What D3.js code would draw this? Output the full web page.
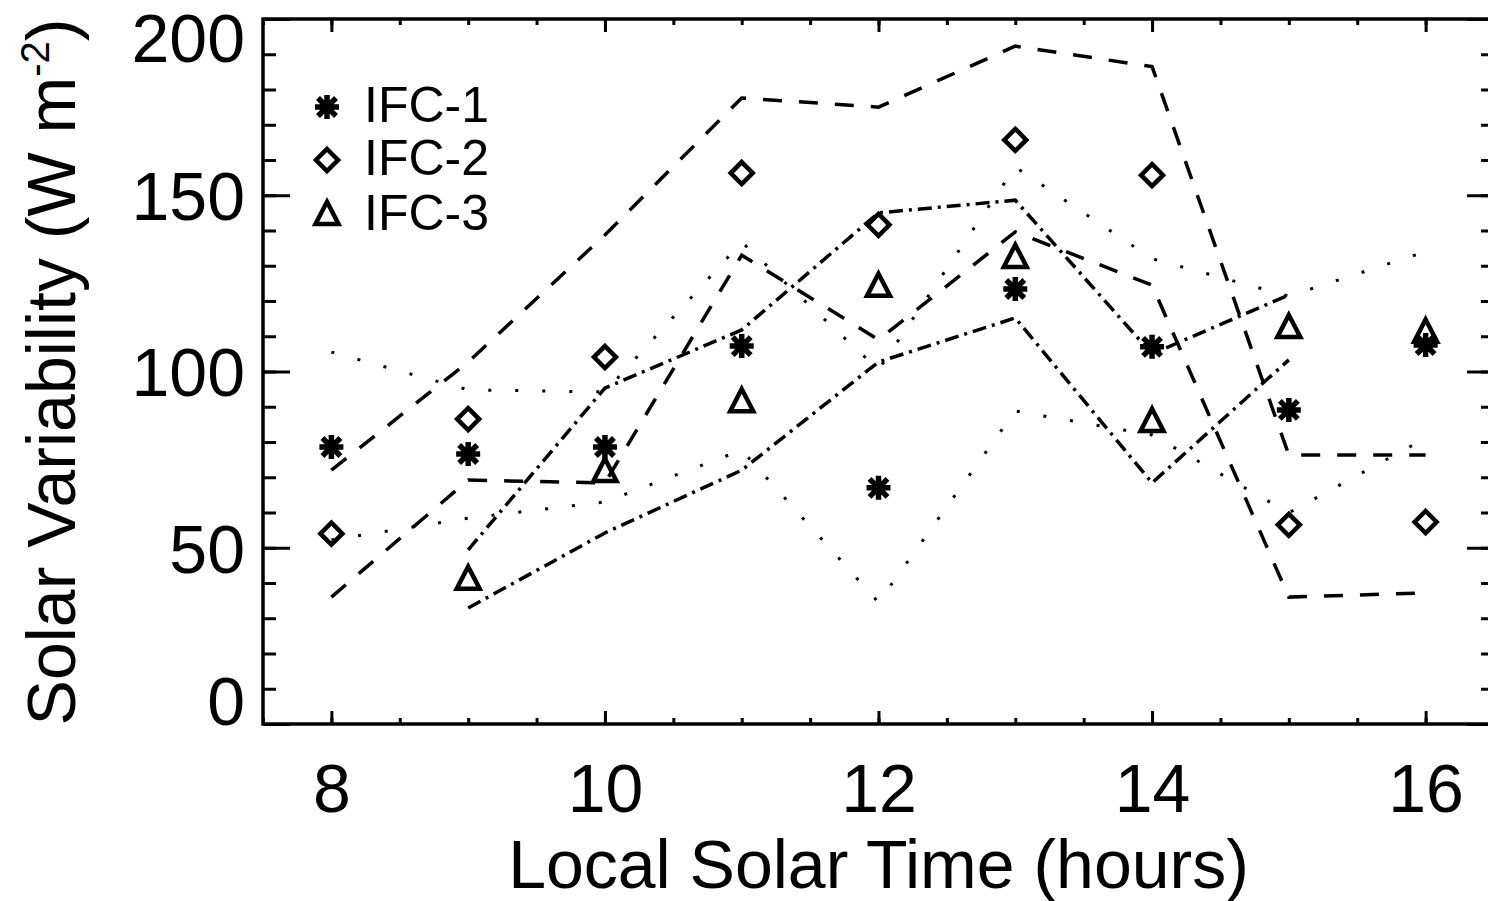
<!DOCTYPE html>
<html>
<head>
<meta charset="utf-8">
<script src="https://cdn.jsdelivr.net/npm/d3@7"></script>
<style>
  body { margin: 0; background: #fff; }
  svg { display: block; }
  text { font-family: "Liberation Sans", Arial, Helvetica, sans-serif; fill: #000; }
</style>
</head>
<body>
<svg id="chart" width="1488" height="901"></svg>
<script>
// hours of local solar time
var hours = [8, 9, 10, 11, 12, 13, 14, 15, 16];

// IFC-1 (asterisks) mean and envelope
var ifc1Mean  = [78.6, 76.6, 78.6, 107.2, 67.0, 123.4, 107.0, 89.1, 107.5];
var ifc1Upper = [105.5, 94.8, 94.2, 136.7, 100.5, 158.0, 132.0, 121.4, 134.0];
var ifc1Lower = [52.2, 58.4, 63.0, 77.7, 34.5, 88.8, 82.0, 59.9, 81.1];

// IFC-2 (diamonds)
var ifc2Mean  = [54.0, 86.5, 104.1, 156.3, 141.6, 165.7, 155.7, 56.5, 57.3];
var ifc2Upper = [72.0, 102.7, 138.7, 177.6, 175.0, 192.3, 186.5, 76.3, 76.3];
var ifc2Lower = [36.0, 69.2, 68.4, 133.0, 109.0, 139.6, 124.5, 36.0, 37.2];

// IFC-3 (triangles), no value at 8 h, no spread at 16 h
var ifc3Mean  = [null, 40.9, 71.5, 91.3, 124.0, 132.2, 85.7, 112.3, 111.0];
var ifc3Upper = [null, 49.4, 95.3, 111.8, 145.0, 148.6, 105.0, 121.7, null];
var ifc3Lower = [null, 32.9, 54.2, 72.0, 102.7, 115.2, 68.4, 103.3, null];

var yMajor = [0, 50, 100, 150, 200];
var xMajor = [8, 10, 12, 14, 16];
var legendNames = ["IFC-1", "IFC-2", "IFC-3"];

var svg = d3.select("#chart");

var x = d3.scaleLinear().domain([7.5, 16.5]).range([263, 1494]);
var y = d3.scaleLinear().domain([0, 200]).range([724, 19]);

// ---- marker shapes ----
function asterisk(s) {
  var d = s * 0.75;
  return "M" + (-s) + ",0L" + s + ",0M0," + (-s) + "L0," + s +
         "M" + (-d) + "," + (-d) + "L" + d + "," + d +
         "M" + (-d) + "," + d + "L" + d + "," + (-d);
}
function diamond(s) {
  return "M0," + (-s) + "L" + s + ",0L0," + s + "L" + (-s) + ",0Z";
}
function triangle(s) {
  return "M0," + (-s * 1.15) + "L" + s + "," + (s * 0.78) + "L" + (-s) + "," + (s * 0.78) + "Z";
}

var series = [
  { mean: ifc1Mean, upper: ifc1Upper, lower: ifc1Lower, shape: asterisk(12), sw: 5.5, dash: "3,24", lw: 3 },
  { mean: ifc2Mean, upper: ifc2Upper, lower: ifc2Lower, shape: diamond(11), sw: 4.5, dash: "19,17", lw: 3.5 },
  { mean: ifc3Mean, upper: ifc3Upper, lower: ifc3Lower, shape: triangle(11.5), sw: 4.5, dash: "14,6,3,6", lw: 3.5 }
];

// ---- axes ticks ----
function styleAxis(g) {
  g.select(".domain").remove();
  g.selectAll(".tick line").attr("stroke", "#000").attr("stroke-width", 3);
}

svg.append("g").attr("transform", "translate(0,724)")
  .call(d3.axisBottom(x).tickValues(d3.range(7.5, 16.6, 0.5)).tickSize(-6).tickFormat(""))
  .call(styleAxis);
var xAx = svg.append("g").attr("transform", "translate(0,724)")
  .call(d3.axisBottom(x).tickValues(xMajor).tickSize(-13).tickPadding(40).tickFormat(d3.format("d")))
  .call(styleAxis);
xAx.selectAll("text").attr("font-size", 68).attr("font-family", "Liberation Sans, Arial, sans-serif");

svg.append("g").attr("transform", "translate(0,19)")
  .call(d3.axisTop(x).tickValues(d3.range(7.5, 16.6, 0.5)).tickSize(-6).tickFormat(""))
  .call(styleAxis);
svg.append("g").attr("transform", "translate(0,19)")
  .call(d3.axisTop(x).tickValues(xMajor).tickSize(-13).tickFormat(""))
  .call(styleAxis);

svg.append("g").attr("transform", "translate(263,0)")
  .call(d3.axisLeft(y).tickValues(d3.range(0, 201, 10)).tickSize(-13).tickFormat(""))
  .call(styleAxis);
var yAx = svg.append("g").attr("transform", "translate(263,0)")
  .call(d3.axisLeft(y).tickValues(yMajor).tickSize(-27).tickPadding(18).tickFormat(d3.format("d")))
  .call(styleAxis);
yAx.selectAll("text")
  .attr("font-size", 68).attr("font-family", "Liberation Sans, Arial, sans-serif")
  .attr("dy", function(d) { return d === 0 ? "0em" : (d === 200 ? "0.62em" : "0.36em"); });

svg.append("g").attr("transform", "translate(1494,0)")
  .call(d3.axisRight(y).tickValues(d3.range(0, 201, 10)).tickSize(-13).tickFormat(""))
  .call(styleAxis);
svg.append("g").attr("transform", "translate(1494,0)")
  .call(d3.axisRight(y).tickValues(yMajor).tickSize(-27).tickFormat(""))
  .call(styleAxis);

// frame
svg.append("rect")
  .attr("x", x(7.5)).attr("y", y(200))
  .attr("width", x(16.5) - x(7.5)).attr("height", y(0) - y(200))
  .attr("fill", "none").attr("stroke", "#000").attr("stroke-width", 3.5);

// ---- envelope lines ----
var line = d3.line()
  .defined(function(d) { return d[1] !== null; })
  .x(function(d) { return x(d[0]); })
  .y(function(d) { return y(d[1]); });

series.forEach(function(s) {
  [s.upper, s.lower].forEach(function(vals) {
    svg.append("path")
      .datum(d3.zip(hours, vals))
      .attr("d", line)
      .attr("fill", "none")
      .attr("stroke", "#000")
      .attr("stroke-width", s.lw)
      .attr("stroke-dasharray", s.dash);
  });
});

// ---- markers ----
series.forEach(function(s) {
  svg.append("g").selectAll("path")
    .data(d3.zip(hours, s.mean).filter(function(d) { return d[1] !== null; }))
    .enter()
    .append("path")
    .attr("transform", function(d) { return "translate(" + x(d[0]) + "," + y(d[1]) + ")"; })
    .attr("d", s.shape)
    .attr("fill", "none")
    .attr("stroke", "#000")
    .attr("stroke-width", s.sw);
});

// ---- legend ----
var legend = svg.append("g");
var legendY = [107, 160, 215];
series.forEach(function(s, i) {
  legend.append("path")
    .attr("transform", "translate(327," + legendY[i] + ")")
    .attr("d", s.shape)
    .attr("fill", "none").attr("stroke", "#000").attr("stroke-width", s.sw);
  legend.append("text")
    .attr("x", 364).attr("y", legendY[i] + 15)
    .attr("font-size", 50)
    .text(legendNames[i]);
});

// ---- titles ----
svg.append("text")
  .attr("x", (x(7.5) + x(16.5)) / 2).attr("y", 888)
  .attr("text-anchor", "middle").attr("font-size", 68)
  .text("Local Solar Time (hours)");

var yt = svg.append("text")
  .attr("transform", "translate(75,372) rotate(-90)")
  .attr("text-anchor", "middle").attr("font-size", 68);
yt.append("tspan").text("Solar Variability (W m");
yt.append("tspan").attr("font-size", 40).attr("dy", -26).text("-2");
yt.append("tspan").attr("dy", 26).text(")");
</script>
</body>
</html>
